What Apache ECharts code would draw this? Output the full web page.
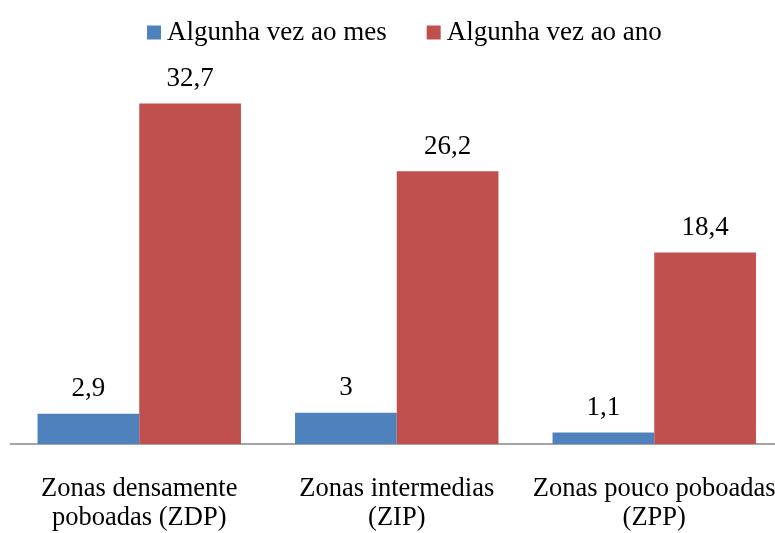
<!DOCTYPE html>
<html>
<head>
    <meta charset="utf-8">
    <title>ECharts</title>
    <script src="https://cdn.jsdelivr.net/npm/echarts@6/dist/echarts.min.js"></script>
    <style>
        html, body { margin: 0; padding: 0; background: #fff; overflow: hidden; }
        /* o eixo sae un pouco polo bordo dereito, coma no orixinal */
        #main { width: 783px; height: 533px; }
    </style>
</head>
<body>
<div id="main"></div>
<script type="text/javascript">
    // datos do gráfico
    var categorias = ['Zonas densamente\npoboadas (ZDP)', 'Zonas intermedias\n(ZIP)', 'Zonas pouco poboadas\n(ZPP)'];
    var mes = [2.9, 3, 1.1];
    var ano = [32.7, 26.2, 18.4];
    var nomes = ['Algunha vez ao mes', 'Algunha vez ao ano'];

    var fonte = '"Liberation Serif", "DejaVu Serif", serif';

    function etiqueta(p) {
        return String(p.value).replace('.', ',');
    }

    var myChart = echarts.init(document.getElementById('main'));

    var option = {
        backgroundColor: '#FFFFFF',
        animation: false,
        legend: {
            data: nomes,
            top: 14,
            left: 142,
            itemWidth: 14,
            itemHeight: 14,
            itemGap: 40,
            icon: 'rect',
            textStyle: { fontFamily: fonte, fontSize: 27, color: '#000', padding: [0, 0, 0, 1] }
        },
        grid: {
            left: 10.5,
            right: 0,
            top: 79.6,
            bottom: 83
        },
        xAxis: {
            type: 'category',
            data: categorias,
            axisLine: { lineStyle: { color: '#868686', width: 1.5 } },
            axisTick: { show: false },
            axisLabel: {
                interval: 0,
                margin: 31,
                lineHeight: 29,
                fontFamily: fonte,
                fontSize: 26.5,
                color: '#000'
            }
        },
        yAxis: {
            type: 'value',
            min: 0,
            max: 35,
            show: false,
            splitLine: { show: false }
        },
        series: [{
            name: nomes[0],
            type: 'bar',
            data: mes,
            barGap: '0%',
            barCategoryGap: '21%',
            itemStyle: { color: '#4F81BD' },
            label: {
                show: true,
                position: 'top',
                distance: 11,
                formatter: etiqueta,
                fontFamily: fonte,
                fontSize: 27,
                color: '#000'
            }
        }, {
            name: nomes[1],
            type: 'bar',
            data: ano,
            barGap: '0%',
            barCategoryGap: '21%',
            itemStyle: { color: '#C0504D' },
            label: {
                show: true,
                position: 'top',
                distance: 11,
                formatter: etiqueta,
                fontFamily: fonte,
                fontSize: 27,
                color: '#000'
            }
        }]
    };

    myChart.setOption(option);
</script>
</body>
</html>
